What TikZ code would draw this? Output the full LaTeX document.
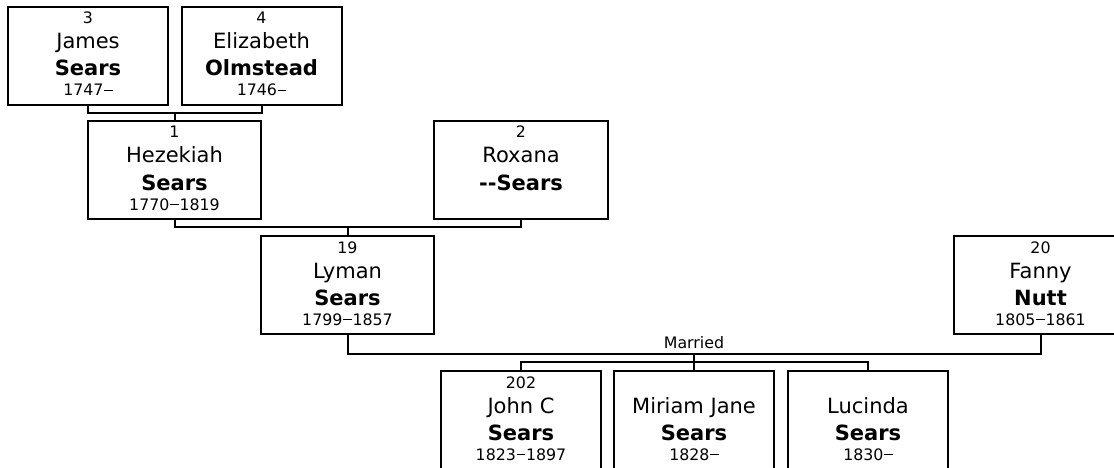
\documentclass[tikz,border=0pt]{standalone}
\usepackage{fontspec}
\setmainfont{DejaVu Sans}
\newcommand\yd{\hspace{0.06em}\rule[0.3em]{0.52em}{0.08em}\hspace{0.06em}}
\begin{document}
\begin{tikzpicture}[x=1pt,y=-1pt,
  pbox/.style={draw, line width=2pt, rectangle, minimum height=98pt, inner sep=0pt},
  smalltxt/.style={anchor=base, inner sep=0pt, font=\fontsize{15.8}{18}\selectfont},
  bigtxt/.style={anchor=base, inner sep=0pt, font=\fontsize{21}{24}\selectfont},
  boldtxt/.style={anchor=base, inner sep=0pt, font=\fontsize{21}{24}\selectfont\bfseries},
  conn/.style={line width=2pt}]
\useasboundingbox (0,0) rectangle (1114,468);
\fill[white] (0,0) rectangle (1114,468);
\clip (0,0) rectangle (1114,468);
\newcommand\personbox[8]{%
  \node[pbox, minimum width=#4] (#1) at (#2,#3+49) {};
  \if\relax\detokenize{#5}\relax\else
  \node[smalltxt] (#1-n) at (#2,#3+17) {#5};\fi
  \node[bigtxt] (#1-f) at (#2,#3+42) {#6};
  \node[boldtxt] (#1-l) at (#2,#3+69) {#7};
  \if\relax\detokenize{#8}\relax\else
  \node[smalltxt] (#1-y) at (#2,#3+89) {#8};\fi
}
\personbox{james}{88}{7}{160pt}{3}{James}{Sears}{1747\yd}
\personbox{eliz}{261.5}{7}{160pt}{4}{Elizabeth}{Olmstead}{1746\yd}
\personbox{hez}{174.5}{121}{173pt}{1}{Hezekiah}{Sears}{1770\yd1819}
\personbox{rox}{521}{121}{174pt}{2}{Roxana}{-{}-Sears}{}
\personbox{lyman}{347.5}{236}{173pt}{19}{Lyman}{Sears}{1799\yd1857}
\personbox{fanny}{1040.5}{236}{173pt}{20}{Fanny}{Nutt}{1805\yd1861}
\personbox{john}{521}{371}{160pt}{202}{John C}{Sears}{1823\yd1897}
\personbox{miriam}{694}{371}{160pt}{}{Miriam Jane}{Sears}{1828\yd}
\personbox{lucinda}{868}{371}{160pt}{}{Lucinda}{Sears}{1830\yd}
% connectors
\coordinate (m1) at (174.5,113);
\coordinate (m2) at (347.5,227);
\coordinate (m3) at (694,354);
\coordinate (k3) at (694,362);
\draw[conn] (james.south) |- (m1) -| (eliz.south);
\draw[conn] (m1) -- (hez.north);
\draw[conn] (hez.south) |- (m2) -| (rox.south);
\draw[conn] (m2) -- (lyman.north);
\draw[conn] (lyman.south) |- (m3) -| (fanny.south);
\node[smalltxt] (married) at (694,348) {Married};
\draw[conn] (m3) -- (k3);
\draw[conn] (john.north) |- (k3) -| (lucinda.north);
\draw[conn] (k3) -- (miriam.north);
\end{tikzpicture}
\end{document}
